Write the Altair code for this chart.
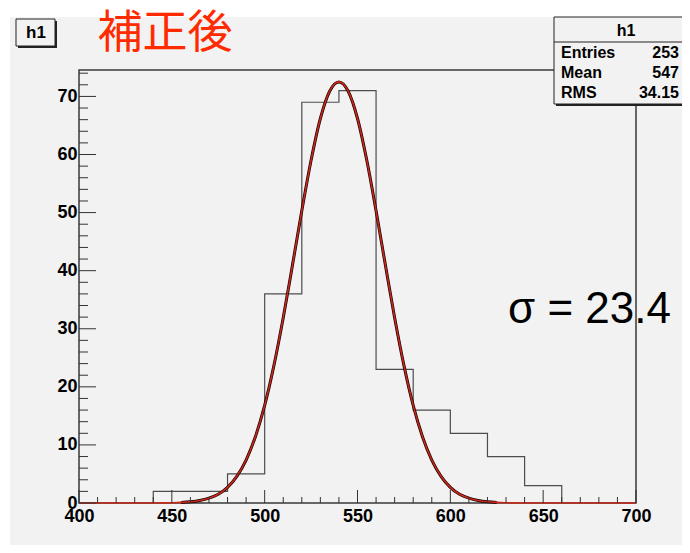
import altair as alt
import pandas as pd

# ---------------- data ----------------
bin_edges = [400, 420, 440, 460, 480, 500, 520, 540, 560, 580, 600, 620, 640, 660, 680, 700]
counts = [0, 0, 2, 2, 5, 36, 69, 71, 23, 16, 12, 8, 3, 0, 0]

fit_x = list(range(400, 705, 5))
fit_y = [0, 0, 0, 0, 0, 0, 0, 0, 0, 0.02,
         0.04, 0.1, 0.21, 0.43, 0.83, 1.5, 2.7, 4.6, 7.4, 11.4,
         16.8, 23.7, 31.9, 41.0, 50.3, 59.0, 66.2, 70.9, 72.5,
         70.9, 66.2, 59.0, 50.3, 41.0, 31.9, 23.7, 16.8, 11.4, 7.4,
         4.6, 2.7, 1.5, 0.83, 0.43, 0.21, 0.1, 0.04, 0.02,
         0, 0, 0, 0, 0, 0, 0, 0, 0, 0, 0, 0, 0]

x_major = [400, 450, 500, 550, 600, 650, 700]
x_minor = [410, 420, 430, 440, 460, 470, 480, 490, 510, 520, 530, 540,
           560, 570, 580, 590, 610, 620, 630, 640, 660, 670, 680, 690]
y_major = [0, 10, 20, 30, 40, 50, 60, 70]
y_minor = [2, 4, 6, 8, 12, 14, 16, 18, 22, 24, 26, 28, 32, 34, 36, 38,
           42, 44, 46, 48, 52, 54, 56, 58, 62, 64, 66, 68, 72, 74]

hist_name = "h1"
title_text = "補正後"
sigma_text = "σ = 23.4"
stats_labels = ["Entries", "Mean", "RMS"]
stats_values = ["253", "547", "34.15"]

# ---------------- tables ----------------
hist_df = pd.DataFrame({"x": bin_edges, "y": counts + [counts[-1]]})
fit_df = pd.DataFrame({"x": fit_x, "y": fit_y})
xmaj_df = pd.DataFrame({"x": x_major})
xmin_df = pd.DataFrame({"x": x_minor})
ymaj_df = pd.DataFrame({"y": y_major})
ymin_df = pd.DataFrame({"y": y_minor})

BG = "#f2f2f2"
FONT = "Liberation Sans"

xscale = alt.Scale(domain=[400, 700], nice=False, zero=False)
yscale = alt.Scale(domain=[0, 74.55], nice=False, zero=True)
xaxis = alt.Axis(values=x_major, title=None, ticks=False, domain=False, grid=False,
                 labelFont=FONT, labelFontSize=18, labelFontWeight="bold",
                 labelColor="black", labelPadding=4, labelFlush=False, format="d")
yaxis = alt.Axis(values=y_major, title=None, ticks=False, domain=False, grid=False,
                 labelFont=FONT, labelFontSize=18, labelFontWeight="bold",
                 labelColor="black", labelPadding=2, format="d")
xenc = alt.X("x:Q", scale=xscale, axis=xaxis)
yenc = alt.Y("y:Q", scale=yscale, axis=yaxis)

one = pd.DataFrame({"t": [""]})

# white strips outside the ROOT canvas
top_strip = alt.Chart(one).mark_rect(fill="white").encode(
    x=alt.value(-71), x2=alt.value(611), y=alt.value(-62), y2=alt.value(-53))
left_strip = alt.Chart(one).mark_rect(fill="white").encode(
    x=alt.value(-71), x2=alt.value(-69), y=alt.value(-62), y2=alt.value(475))

hist = alt.Chart(hist_df).mark_line(interpolate="step-after", color="#4d4d4d",
                                    strokeWidth=1.2).encode(x=xenc, y=yenc)

fit_black = alt.Chart(fit_df).transform_filter(
    (alt.datum.x >= 455) & (alt.datum.x <= 625)
).mark_line(interpolate="monotone", color="#1a0000", strokeWidth=3).encode(x=xenc, y=yenc)
fit_red = alt.Chart(fit_df).mark_line(interpolate="monotone", color="#c8281a",
                                      strokeWidth=1.6).encode(x=xenc, y=yenc)

tick_col = "#333333"
ymaj_t = alt.Chart(ymaj_df).mark_rule(color=tick_col, strokeWidth=1).encode(
    y=yenc, x=alt.value(0), x2=alt.value(17))
ymin_t = alt.Chart(ymin_df).mark_rule(color=tick_col, strokeWidth=1).encode(
    y=yenc, x=alt.value(0), x2=alt.value(9))
xmaj_t = alt.Chart(xmaj_df).mark_rule(color=tick_col, strokeWidth=1).encode(
    x=xenc, y=alt.value(433), y2=alt.value(420))
xmin_t = alt.Chart(xmin_df).mark_rule(color=tick_col, strokeWidth=1).encode(
    x=xenc, y=alt.value(433), y2=alt.value(427))

# h1 label box
h1_shadow = alt.Chart(one).mark_rect(fill="#222222").encode(
    x=alt.value(-61), x2=alt.value(-22), y=alt.value(-49), y2=alt.value(-22))
h1_box = alt.Chart(one).mark_rect(fill=BG, stroke="#222222", strokeWidth=1).encode(
    x=alt.value(-63), x2=alt.value(-24), y=alt.value(-51), y2=alt.value(-24))
h1_text = alt.Chart(pd.DataFrame({"t": [hist_name]})).mark_text(
    font=FONT, fontSize=17, fontWeight="bold", color="black", align="center", baseline="middle"
).encode(text="t:N", x=alt.value(-43), y=alt.value(-37))

title = alt.Chart(pd.DataFrame({"t": [title_text]})).mark_text(
    font="Noto Sans CJK JP", fontSize=45, color="#ff2a00", align="center", baseline="middle"
).encode(text="t:N", x=alt.value(86), y=alt.value(-36))

sigma = alt.Chart(pd.DataFrame({"t": [sigma_text]})).mark_text(
    font=FONT, fontSize=44, color="black", align="left", baseline="middle"
).encode(text="t:N", x=alt.value(429), y=alt.value(240))

# stats box
st_shadow = alt.Chart(one).mark_rect(fill="#222222").encode(
    x=alt.value(477), x2=alt.value(615), y=alt.value(-51), y2=alt.value(36))
st_box = alt.Chart(one).mark_rect(fill=BG, stroke="#222222", strokeWidth=1).encode(
    x=alt.value(475), x2=alt.value(613), y=alt.value(-53), y2=alt.value(34))
st_line = alt.Chart(one).mark_rule(color="#222222", strokeWidth=1).encode(
    x=alt.value(475), x2=alt.value(613), y=alt.value(-28))
st_title = alt.Chart(pd.DataFrame({"t": [hist_name]})).mark_text(
    font=FONT, fontSize=16, fontWeight="bold", color="black", align="center", baseline="middle"
).encode(text="t:N", x=alt.value(547), y=alt.value(-39))

stat_layers = []
row_y = [-17, 3, 23]
for lab, val, yy in zip(stats_labels, stats_values, row_y):
    d = pd.DataFrame({"l": [lab], "v": [val]})
    stat_layers.append(alt.Chart(d).mark_text(
        font=FONT, fontSize=16, fontWeight="bold", color="black", align="left", baseline="middle"
    ).encode(text="l:N", x=alt.value(482), y=alt.value(yy)))
    stat_layers.append(alt.Chart(d).mark_text(
        font=FONT, fontSize=16, fontWeight="bold", color="black", align="right", baseline="middle"
    ).encode(text="v:N", x=alt.value(600), y=alt.value(yy)))

chart = alt.layer(
    top_strip, left_strip,
    hist, fit_black, fit_red,
    ymaj_t, ymin_t, xmaj_t, xmin_t,
    h1_shadow, h1_box, h1_text, title, sigma,
    st_shadow, st_box, st_line, st_title, *stat_layers
).properties(
    width=557, height=433,
    autosize=alt.AutoSizeParams(type="none"),
    padding={"left": 71, "top": 62, "right": 46, "bottom": 42},
    background=BG,
).configure_view(stroke="#3a3a3a", strokeWidth=1.5)

chart.save("out.html", embed_options={"renderer": "svg", "actions": False})
